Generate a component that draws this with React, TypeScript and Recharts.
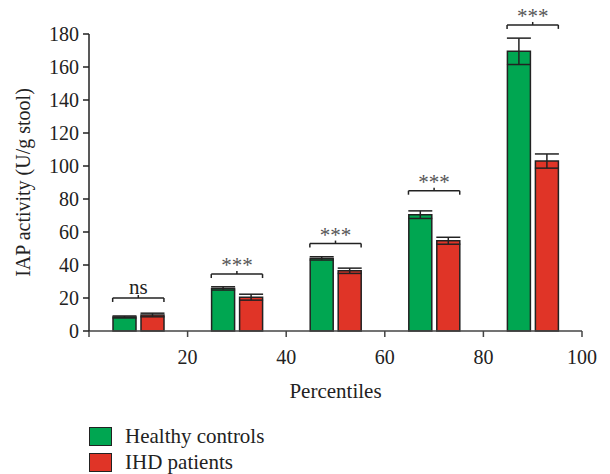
import React from 'react';
import {
  BarChart, Bar, XAxis, YAxis, ErrorBar, ReferenceLine, Label,
} from 'recharts';

const percentiles = [10, 30, 50, 70, 90];
const healthy = [8.5, 25.8, 44, 70.5, 169.5];
const healthyErr = [0.6, 1.0, 1.0, 2.3, 8];
const ihd = [9.7, 20.5, 36.5, 54.7, 103];
const ihdErr = [1.1, 1.8, 1.6, 2.1, 4.3];
const sigLabels = ['ns', '***', '***', '***', '***'];
const bracketY = [20, 34.5, 53, 85, 185.5];
const xTicks = [0, 20, 40, 60, 80, 100];
const yTicks = [0, 20, 40, 60, 80, 100, 120, 140, 160, 180];
const seriesNames = ['Healthy controls', 'IHD patients'];

const GREEN = '#00A651';
const RED = '#E03427';
const INK = '#222';
const FONT = '"Liberation Serif", "Times New Roman", serif';

const data = percentiles.map((p, i) => ({
  p, healthy: healthy[i], healthyErr: healthyErr[i], ihd: ihd[i], ihdErr: ihdErr[i],
}));

const YTitle = ({ viewBox }: any) => {
  const cx = viewBox.x + 1;
  const cy = viewBox.y + viewBox.height / 2;
  return (
    <text x={cx} y={cy} transform={`rotate(-90 ${cx} ${cy})`} textAnchor="middle"
      fontFamily={FONT} fontSize={20} fill={INK}>
      IAP activity (U/g stool)
    </text>
  );
};

const XTitle = ({ viewBox }: any) => (
  <text x={viewBox.x + viewBox.width / 2} y={viewBox.y + 67} textAnchor="middle"
    fontFamily={FONT} fontSize={21} fill={INK}>
    Percentiles
  </text>
);

const HALF = 5.2;

export default function App() {
  return (
    <div style={{ position: 'absolute', left: 0, top: 0, width: 610, height: 474 }}>
      <BarChart width={610} height={474} data={data} barSize={23} barGap={5}
        margin={{ top: 34, right: 28, left: 29, bottom: 73 }}>
        <XAxis dataKey="p" type="number" domain={[0, 100]} ticks={xTicks}
          tickFormatter={(v: number) => (v === 0 ? '' : String(v))}
          height={70} tickSize={6} tickMargin={13}
          stroke="#444" strokeWidth={1.5}
          tick={{ fontFamily: FONT, fontSize: 20, fill: INK }}>
          <Label content={<XTitle />} />
        </XAxis>
        <YAxis type="number" domain={[0, 180]} ticks={yTicks} width={60}
          tickSize={6} tickMargin={4} stroke={INK} strokeWidth={1.5}
          interval={0}
          tick={{ fontFamily: FONT, fontSize: 20, fill: INK }}>
          <Label content={<YTitle />} />
        </YAxis>
        <Bar dataKey="healthy" fill={GREEN} stroke={INK} strokeWidth={1.5} isAnimationActive={false}>
          <ErrorBar dataKey="healthyErr" width={12} stroke={INK} strokeWidth={1.5} direction="y" />
        </Bar>
        <Bar dataKey="ihd" fill={RED} stroke={INK} strokeWidth={1.5} isAnimationActive={false}>
          <ErrorBar dataKey="ihdErr" width={12} stroke={INK} strokeWidth={1.5} direction="y" />
        </Bar>
        {percentiles.map((p, i) => (
          <ReferenceLine key={`h${i}`} ifOverflow="visible" stroke={INK} strokeWidth={1.5}
            segment={[{ x: p - HALF, y: bracketY[i] }, { x: p + HALF, y: bracketY[i] }]}
            label={{
              value: sigLabels[i], position: 'top', offset: sigLabels[i] === 'ns' ? 4 : 2,
              fontFamily: FONT, fontSize: sigLabels[i] === 'ns' ? 21 : 21,
              fill: sigLabels[i] === 'ns' ? INK : '#555',
            }} />
        ))}
        {percentiles.map((p, i) => (
          <ReferenceLine key={`l${i}`} ifOverflow="visible" stroke={INK} strokeWidth={1.5}
            segment={[{ x: p - HALF, y: bracketY[i] }, { x: p - HALF, y: bracketY[i] - 2.4 }]} />
        ))}
        {percentiles.map((p, i) => (
          <ReferenceLine key={`r${i}`} ifOverflow="visible" stroke={INK} strokeWidth={1.5}
            segment={[{ x: p + HALF, y: bracketY[i] }, { x: p + HALF, y: bracketY[i] - 2.4 }]} />
        ))}
        {percentiles.map((p, i) => (
          <ReferenceLine key={`c${i}`} ifOverflow="visible" stroke={INK} strokeWidth={1.5}
            segment={[{ x: p, y: bracketY[i] }, { x: p, y: bracketY[i] + 1.8 }]} />
        ))}
      </BarChart>
      <div style={{ position: 'absolute', left: 89, top: 423, fontFamily: FONT, fontSize: 21, color: INK }}>
        {seriesNames.map((name, i) => (
          <div key={name} style={{ display: 'flex', alignItems: 'center', height: 26 }}>
            <span style={{
              display: 'inline-block', width: 21, height: 17, boxSizing: 'content-box',
              background: i === 0 ? GREEN : RED, border: `1.5px solid ${INK}`, marginRight: 13,
            }} />
            <span>{name}</span>
          </div>
        ))}
      </div>
    </div>
  );
}
